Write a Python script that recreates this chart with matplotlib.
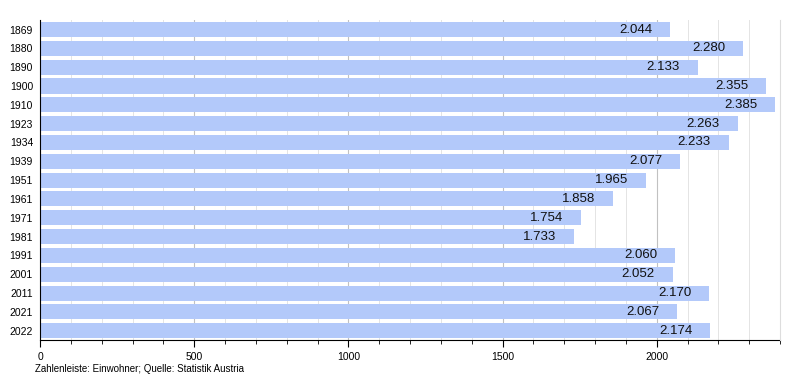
import matplotlib
matplotlib.use("Agg")
import matplotlib.pyplot as plt
from matplotlib.ticker import MultipleLocator

years = ["1869", "1880", "1890", "1900", "1910", "1923", "1934", "1939", "1951", "1961",
         "1971", "1981", "1991", "2001", "2011", "2021", "2022"]
population = [2044, 2280, 2133, 2355, 2385, 2263, 2233, 2077, 1965, 1858,
              1754, 1733, 2060, 2052, 2170, 2067, 2174]

plt.rcParams['font.family'] = ['Liberation Sans', 'DejaVu Sans']

fig = plt.figure(figsize=(8, 3.8), dpi=100)
ax = fig.add_axes([0.05, 0.105, 0.925, 0.842])

pos = list(range(len(years)))
ax.barh(pos, population, height=0.8, color="#b3c9fa", zorder=2)
ax.set_ylim(len(years) - 0.5, -0.5)
ax.set_xlim(0, 2400)

ax.xaxis.set_major_locator(MultipleLocator(500))
ax.xaxis.set_minor_locator(MultipleLocator(100))
ax.grid(axis="x", which="minor", color="#dddddd", linewidth=0.7, zorder=3, alpha=0.8)
ax.grid(axis="x", which="major", color="#999999", linewidth=0.8, zorder=3, alpha=0.6)
ax.axvline(2400, color="#dddddd", linewidth=0.8, clip_on=False, zorder=3)

ax.set_yticks(pos)
ax.set_yticklabels(years)
ax.tick_params(axis="y", length=0, labelsize=7.5, pad=5)
ax.tick_params(axis="x", which="major", length=5, labelsize=7.5, direction="out")
ax.tick_params(axis="x", which="minor", length=3, direction="out")

for side in ["top", "right"]:
    ax.spines[side].set_visible(False)
ax.spines["left"].set_color("black")
ax.spines["bottom"].set_color("black")

for p, v in zip(pos, population):
    label = f"{v/1000:.3f}"
    ax.annotate(label, xy=(v, p), xytext=(-18, 0), textcoords="offset pixels",
                ha="right", va="center", fontsize=9.5, color="#111111", zorder=4)

fig.text(0.044, 0.028, "Zahlenleiste: Einwohner; Quelle: Statistik Austria", fontsize=7, ha="left", va="center")

fig.savefig("out.png", dpi=100)
